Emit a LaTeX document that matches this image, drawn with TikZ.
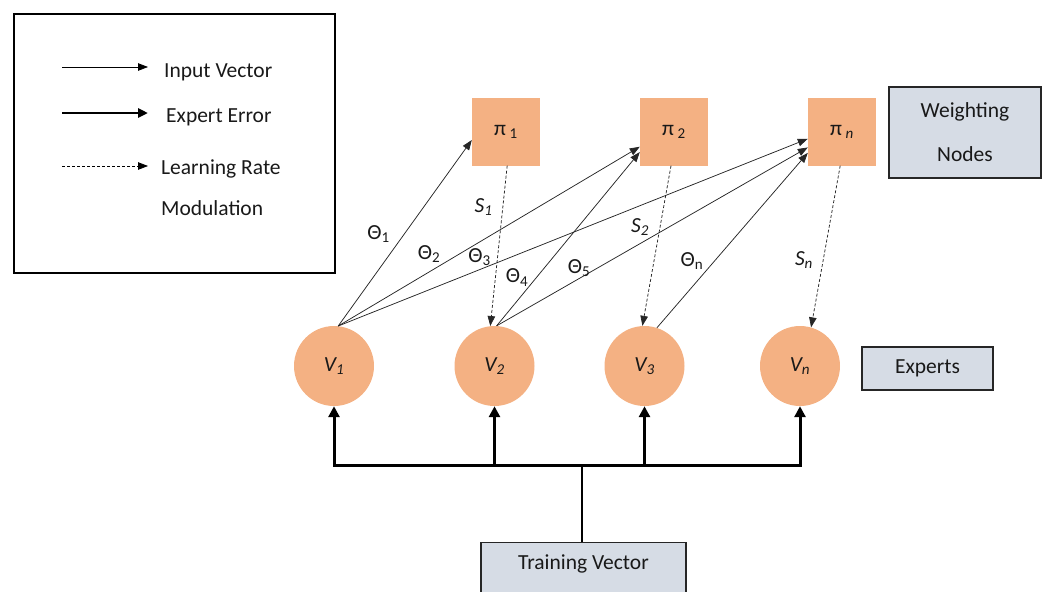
\documentclass[tikz,border=0pt]{standalone}
\usepackage{fontspec}
\setmainfont{Carlito}
\usetikzlibrary{arrows.meta}
\definecolor{nodeorange}{HTML}{F4B183}
\definecolor{boxgray}{HTML}{D6DCE5}
\definecolor{linecol}{HTML}{262626}
\begin{document}
\begin{tikzpicture}[x=1pt,y=-1pt,
  every node/.style={font=\fontsize{21.5}{26}\selectfont, inner sep=0pt, text=black!90},
  wnode/.style={fill=nodeorange, minimum size=68pt},
  expert/.style={circle, fill=nodeorange, minimum size=80pt},
  infobox/.style={draw=linecol, line width=1.2pt, fill=boxgray},
  inarrow/.style={draw=linecol, line width=0.75pt, -{Triangle[length=10pt,width=7.5pt]}},
  lrarrow/.style={draw=linecol, line width=0.75pt, dash pattern=on 3pt off 2pt, -{Triangle[length=10pt,width=7.5pt]}},
  errarrow/.style={draw=black, line width=3pt, -{Triangle[length=11pt,width=11pt]}},
]
\useasboundingbox (0,0) rectangle (1053,592);
\clip (0,0) rectangle (1053,592);

% legend
\node[draw=black, line width=1.5pt, minimum width=321pt, minimum height=259pt, anchor=north west] (legend) at (13,13) {};
\coordinate (l1a) at (62,67);  \coordinate (l1b) at (148,67);
\coordinate (l2a) at (62,113); \coordinate (l2b) at (148,113);
\coordinate (l3a) at (62,166); \coordinate (l3b) at (148,166);
\draw[inarrow, draw=black] (l1a) -- (l1b);
\draw[errarrow, line width=2.8pt, -{Triangle[length=10pt,width=9pt]}] (l2a) -- (l2b);
\draw[lrarrow, draw=black] (l3a) -- (l3b);
\node[anchor=base west] (t1) at (164,77) {Input Vector};
\node[anchor=base west] (t2) at (166,122) {Expert Error};
\node[anchor=base west] (t3) at (161,174) {Learning Rate};
\node[anchor=base west] (t4) at (161,215) {Modulation};

% weighting nodes
\node[wnode] (p1) at (506,131.5) {π\,\textsubscript{1}};
\node[wnode] (p2) at (674,131.5) {π\,\textsubscript{2}};
\node[wnode] (pn) at (842,131.5) {π\,\textsubscript{\textit{n}}};
\node[infobox, minimum width=152pt, minimum height=91pt, align=center, font=\fontsize{21.5}{44}\selectfont] (wbox) at (965,132.5) {Weighting\\Nodes};

% experts
\node[expert] (V1) at (334,366) {\textit{V\textsubscript{1}}};
\node[expert] (V2) at (494.5,366) {\textit{V\textsubscript{2}}};
\node[expert] (V3) at (644.5,366) {\textit{V\textsubscript{3}}};
\node[expert] (Vn) at (800,366) {\textit{V\textsubscript{n}}};
\node[infobox, minimum width=131pt, minimum height=43pt] (ebox) at (927.5,368.5) {Experts};

% training vector
\node[infobox, minimum width=205pt, minimum height=70pt, anchor=north] (tv) at (583.5,542) {};
\node (tvtext) at (583.5,564) {Training Vector};

% input vector arrows
\draw[inarrow] (V1.84) -- (p1.194);
\draw[inarrow] (V1.84) -- (p2.204);
\draw[inarrow] (V1.84) -- (pn.192);
\draw[inarrow] (V2.87) -- (p2.211);
\draw[inarrow] (V2.87) -- (pn.205);
\draw[inarrow] (V3.72) -- (pn.212);

% learning rate modulation
\draw[lrarrow] (p1.272) -- (V2.96);
\draw[lrarrow] (p2.265) -- (V3.93);
\draw[lrarrow] (pn.267) -- (Vn.74);

% labels
\node (th1) at (378.5,234) {Θ\textsubscript{1}};
\node (th2) at (429,254) {Θ\textsubscript{2}};
\node (th3) at (479.5,257) {Θ\textsubscript{3}};
\node (th4) at (517,277.5) {Θ\textsubscript{4}};
\node (th5) at (579,268) {Θ\textsubscript{5}};
\node (thn) at (692,261) {Θ\textsubscript{n}};
\node (s1) at (483.5,207) {\textit{S\textsubscript{1}}};
\node (s2) at (640,227) {\textit{S\textsubscript{2}}};
\node (sn) at (804,260) {\textit{S\textsubscript{n}}};

% expert error feed
\coordinate (bus) at (582,465);
\draw[line width=2pt, black] (tv.north -| bus) -- (bus);
\draw[line width=3pt, black, line cap=rect] (V1.south |- bus) -- (Vn.south |- bus);
\foreach \v in {V1,V2,V3,Vn} \draw[errarrow] (\v.south |- bus) -- (\v.south);
\end{tikzpicture}
\end{document}
